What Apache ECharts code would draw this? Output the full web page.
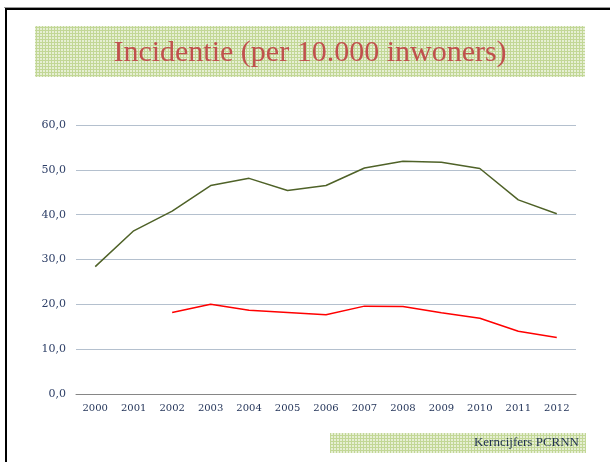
<!DOCTYPE html>
<html>
<head>
<meta charset="utf-8">
<script src="https://cdn.jsdelivr.net/npm/echarts@6/dist/echarts.min.js"></script>
<style>
  html, body { margin: 0; padding: 0; background: #fff; }
  #main { width: 610px; height: 462px; }
</style>
</head>
<body>
<div id="main"></div>
<script>
// data
var years = ['2000', '2001', '2002', '2003', '2004', '2005', '2006',
	'2007', '2008', '2009', '2010', '2011', '2012'];
var totaal = [28.4, 36.4, 40.8, 46.5, 48.1, 45.4, 46.5, 50.4, 51.9, 51.7, 50.3, 43.3, 40.2];
var tweede = [null, null, 18.2, 20.0, 18.7, 18.2, 17.7, 19.6, 19.5, 18.1, 16.9, 14.0, 12.6];
var yTicks = [0, 10, 20, 30, 40, 50, 60];

// little green checkered texture for the title / footer bands
function makePattern() {
	var c = document.createElement('canvas');
	c.width = 3;
	c.height = 3;
	var ctx = c.getContext('2d');
	ctx.fillStyle = '#e6efd4';
	ctx.fillRect(0, 0, 3, 3);
	ctx.fillStyle = '#c2d796';
	ctx.fillRect(0, 0, 3, 1);
	ctx.fillRect(0, 0, 1, 3);
	return c;
}
var pattern = makePattern();

var chart = echarts.init(document.getElementById('main'), null, { renderer: 'canvas' });

var serif = '"Liberation Serif", "DejaVu Serif", serif';
var labelFont = '"DejaVu Serif", serif';

chart.setOption({
	backgroundColor: '#fff',
	animation: false,
	graphic: [
		// slide border
		{ type: 'rect', shape: { x: 4, y: 7, width: 606, height: 1 }, style: { fill: '#9a9a9a' } },
		{ type: 'rect', shape: { x: 5, y: 8, width: 605, height: 2 }, style: { fill: '#000' } },
		{ type: 'rect', shape: { x: 5, y: 8, width: 2, height: 454 }, style: { fill: '#000' } },
		// title band
		{ type: 'rect', shape: { x: 35, y: 26, width: 550, height: 51 },
			style: { fill: { image: pattern, repeat: 'repeat' } } },
		{ type: 'text', x: 310, y: 53,
			style: { text: 'Incidentie (per 10.000 inwoners)', fill: '#c0504d',
				font: '30px ' + serif, align: 'center', verticalAlign: 'middle' } },
		// footer band
		{ type: 'rect', shape: { x: 330, y: 433, width: 256, height: 20 },
			style: { fill: { image: pattern, repeat: 'repeat' } } },
		{ type: 'text', x: 579, y: 443,
			style: { text: 'Kerncijfers PCRNN', fill: '#1f3050',
				font: '13px ' + serif, align: 'right', verticalAlign: 'middle' } }
	],
	grid: { left: 76, right: 34, top: 125, bottom: 68 },
	xAxis: {
		type: 'category',
		data: years,
		boundaryGap: true,
		axisLine: { lineStyle: { color: '#868686', width: 1 } },
		axisTick: { show: false },
		axisLabel: { color: '#24355a', fontFamily: labelFont, fontSize: 10, margin: 9 }
	},
	yAxis: {
		type: 'value',
		min: yTicks[0],
		max: yTicks[yTicks.length - 1],
		interval: 10,
		axisLine: { show: false },
		axisTick: { show: false },
		splitLine: { lineStyle: { color: '#b4c0ce', width: 1 } },
		axisLabel: {
			color: '#2f4068', fontFamily: labelFont, fontSize: 11, margin: 10,
			formatter: function(v) { return v.toFixed(1).replace('.', ','); }
		}
	},
	series: [{
		type: 'line',
		data: totaal,
		showSymbol: false,
		lineStyle: { color: '#4f6228', width: 1.5 },
		itemStyle: { color: '#4f6228' }
	}, {
		type: 'line',
		data: tweede,
		showSymbol: false,
		connectNulls: false,
		lineStyle: { color: '#ff0000', width: 1.5 },
		itemStyle: { color: '#ff0000' }
	}]
});
</script>
</body>
</html>
